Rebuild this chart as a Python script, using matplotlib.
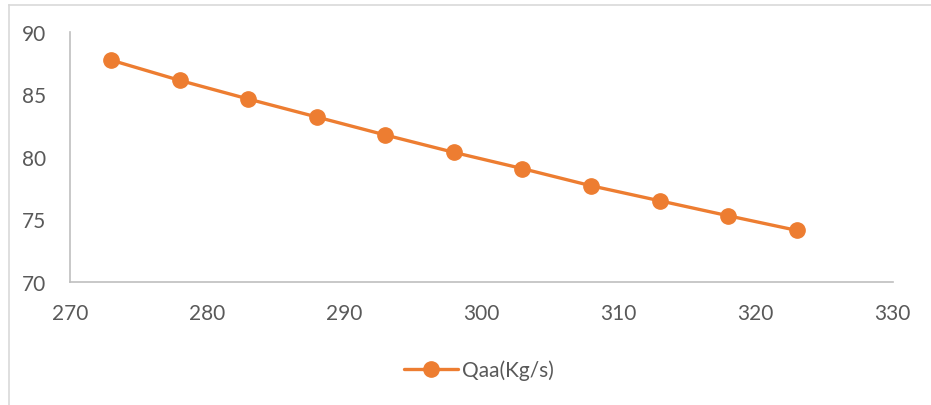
import matplotlib
matplotlib.use("Agg")
import matplotlib.pyplot as plt
from matplotlib.lines import Line2D

# Flow rate series
temperature = [273, 278, 283, 288, 293, 298, 303, 308, 313, 318, 323]
qaa = [87.75, 86.13, 84.64, 83.2, 81.76, 80.37, 79.07, 77.7, 76.5, 75.3, 74.13]
series_label = "Qaa(Kg/s)"
x_ticks = [270, 280, 290, 300, 310, 320, 330]
y_ticks = [70, 75, 80, 85, 90]

ORANGE = "#ED7D31"
TEXT = "#595959"
AXIS = "#BFBFBF"

plt.rcParams["font.family"] = ["Lato", "DejaVu Sans"]

W, H = 931, 406
fig = plt.figure(figsize=(W / 100, H / 100), dpi=100)

ax = fig.add_axes([70 / W, 123 / H, 822.7 / W, 250 / H])
ax.plot(temperature, qaa, color=ORANGE, linewidth=2.4, marker="o",
        markersize=11, label=series_label, solid_capstyle="round")

ax.set_xlim(270, 330)
ax.set_ylim(70, 90)
ax.set_xticks(x_ticks)
ax.set_yticks(y_ticks)
ax.tick_params(axis="both", length=0, labelsize=15, labelcolor=TEXT)
ax.tick_params(axis="y", pad=17)
ax.tick_params(axis="x", pad=15)
for side in ("top", "right"):
    ax.spines[side].set_visible(False)
for side in ("left", "bottom"):
    ax.spines[side].set_color(AXIS)
    ax.spines[side].set_linewidth(1.2)

fig.legend(loc="center", bbox_to_anchor=(479 / W, 35 / H), frameon=False,
           fontsize=15, labelcolor=TEXT, handlelength=2.6, handletextpad=0.2)

# Outer frame lines (top and left)
fig.add_artist(Line2D([9 / W, 1], [1 - 6 / H, 1 - 6 / H], color="#D9D9D9",
                      linewidth=1.2, transform=fig.transFigure))
fig.add_artist(Line2D([9 / W, 9 / W], [0, 1 - 6 / H], color="#D9D9D9",
                      linewidth=1.2, transform=fig.transFigure))

fig.savefig("out.png", dpi=100, facecolor="white")
